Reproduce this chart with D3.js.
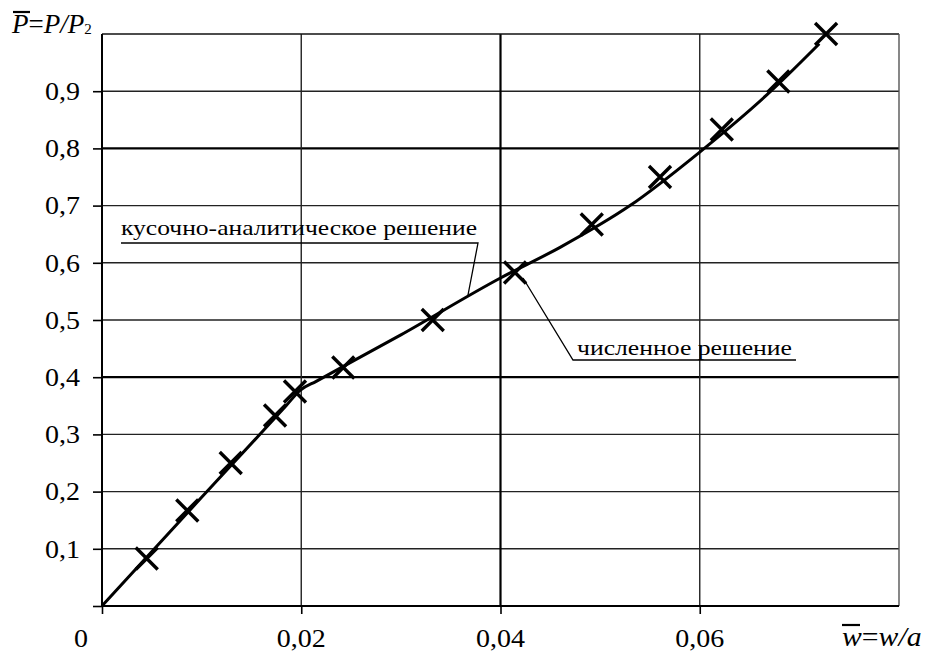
<!DOCTYPE html>
<html>
<head>
<meta charset="utf-8">
<script src="https://cdn.jsdelivr.net/npm/d3@7"></script>
<style>
  @font-face { font-family: "PlotSerif"; font-style: normal; src: local("Liberation Serif"), local("LiberationSerif"), local("Tinos"); }
  @font-face { font-family: "PlotSerif"; font-style: italic; src: local("Liberation Serif Italic"), local("LiberationSerif-Italic"), local("Tinos Italic"); }
</style>
</head>
<body style="margin:0">
<svg id="fig" width="925" height="652"></svg>
<script>
// Численное решение (точки ×): прогиб w/a и нагрузка P/P2
const numW = [0.00449, 0.00856, 0.01292, 0.01737, 0.01937, 0.02422, 0.0332, 0.04146, 0.04916, 0.05601, 0.06221, 0.06789, 0.07268];
const numP = [0.083, 0.167, 0.25, 0.333, 0.375, 0.417, 0.5, 0.583, 0.667, 0.75, 0.833, 0.917, 1.0];

// Кусочно-аналитическое решение (сплошная линия)
const anW = [0, 0.010, 0.0185, 0.01988, 0.0215, 0.030, 0.03995, 0.04598, 0.0530, 0.0600, 0.0667, 0.0720];
const anP = [0, 0.190, 0.3505, 0.377, 0.3928, 0.474, 0.573, 0.627, 0.700, 0.7936, 0.893, 0.983];

// Деления осей
const xTicks = [0.02, 0.04, 0.06];
const xTickLabels = ["0,02", "0,04", "0,06"];
const yTicks = [0.1, 0.2, 0.3, 0.4, 0.5, 0.6, 0.7, 0.8, 0.9];
const yTickLabels = ["0,1", "0,2", "0,3", "0,4", "0,5", "0,6", "0,7", "0,8", "0,9"];
const majorX = [0.04];
const majorY = [0.4, 0.8];

const FONT = "Liberation Serif";
// разрешаем шрифт заранее, чтобы текст сразу рисовался им
const ctx = document.createElement("canvas").getContext("2d");
["25px", "italic 27px", "22px"].forEach(f => { ctx.font = f + " " + FONT; ctx.measureText("0,02 кусочно P/P w/a"); });
const serif = sel => sel.style("font-family", FONT + ", PlotSerif, serif");

const svg = d3.select("#fig");
const x = d3.scaleLinear().domain([0, 0.08]).range([102, 899]);
const y = d3.scaleLinear().domain([0, 1]).range([606, 34]);

// Сетка
const grid = svg.append("g");
grid.selectAll("line.h").data(yTicks).join("line")
  .attr("x1", x(0)).attr("x2", x(0.08))
  .attr("y1", d => y(d)).attr("y2", d => y(d))
  .attr("stroke", d => majorY.includes(d) ? "#000" : "#222")
  .attr("stroke-width", d => majorY.includes(d) ? 2.2 : 1.4);
grid.selectAll("line.v").data(xTicks).join("line")
  .attr("y1", y(0)).attr("y2", y(1))
  .attr("x1", d => x(d)).attr("x2", d => x(d))
  .attr("stroke", d => majorX.includes(d) ? "#000" : "#222")
  .attr("stroke-width", d => majorX.includes(d) ? 2.2 : 1.4);

// Рамка поля графика
grid.append("line").attr("x1", x(0)).attr("x2", x(0.08)).attr("y1", y(1)).attr("y2", y(1))
  .attr("stroke", "#111").attr("stroke-width", 1.6);
grid.append("line").attr("x1", x(0.08)).attr("x2", x(0.08)).attr("y1", y(1)).attr("y2", y(0))
  .attr("stroke", "#555").attr("stroke-width", 1.4);

// Оси с засечками
const yAxis = d3.axisLeft(y).tickValues(yTicks.concat([0])).tickSize(9).tickFormat("");
const xAxis = d3.axisBottom(x).tickValues([0].concat(xTicks)).tickSize(8).tickFormat("");
svg.append("g").attr("transform", `translate(${x(0)},0)`).call(yAxis)
  .call(g => g.select(".domain").attr("stroke-width", 2).attr("d", `M0,${y(0)}V${y(1)}`))
  .call(g => g.selectAll(".tick line").attr("stroke-width", 1.6));
svg.append("g").attr("transform", `translate(0,${y(0)})`).call(xAxis)
  .call(g => g.select(".domain").attr("stroke-width", 2).attr("d", `M${x(0)},0H${x(0.08)}`))
  .call(g => g.selectAll(".tick line").attr("stroke-width", 1.6));

// Подписи делений (шрифт слегка растянут по горизонтали)
const SX = 1.12;
svg.append("g").selectAll("text").data(yTicks).join("text")
  .call(serif).attr("font-size", 25)
  .attr("transform", d => `translate(80,${y(d)}) scale(${SX},1)`)
  .attr("dy", "0.35em").attr("text-anchor", "end")
  .text((d, i) => yTickLabels[i]);
svg.append("g").selectAll("text").data(xTicks).join("text")
  .call(serif).attr("font-size", 25)
  .attr("transform", d => `translate(${x(d)},647) scale(${SX},1)`)
  .attr("text-anchor", "middle")
  .text((d, i) => xTickLabels[i]);
svg.append("text").call(serif).attr("font-size", 25)
  .attr("transform", `translate(${x(0) - 21},647) scale(${SX},1)`)
  .attr("text-anchor", "middle").text("0");

// Подписи осей
const yTitle = svg.append("text").call(serif)
  .attr("x", 12).attr("y", 33).attr("font-size", 27).attr("font-style", "italic");
yTitle.append("tspan").text("P");
yTitle.append("tspan").attr("font-style", "normal").text("=");
yTitle.append("tspan").text("P/P");
yTitle.append("tspan").attr("font-size", 15).attr("font-style", "normal").attr("dy", 1).text("2");
svg.append("line").attr("x1", 13).attr("x2", 30).attr("y1", 12).attr("y2", 12)
  .attr("stroke", "#000").attr("stroke-width", 2.2);

const xTitle = svg.append("text").call(serif)
  .attr("transform", "translate(842,646) scale(1.1,1)")
  .attr("font-size", 27).attr("font-style", "italic");
xTitle.append("tspan").text("w");
xTitle.append("tspan").attr("font-style", "normal").text("=");
xTitle.append("tspan").text("w/a");
svg.append("line").attr("x1", 842).attr("x2", 860).attr("y1", 625).attr("y2", 625)
  .attr("stroke", "#000").attr("stroke-width", 2.2);

// Кривая аналитического решения
const anPts = anW.map((w, i) => [w, anP[i]]);
svg.append("path").datum(anPts)
  .attr("fill", "none").attr("stroke", "#000").attr("stroke-width", 3)
  .attr("d", d3.line().x(d => x(d[0])).y(d => y(d[1])).curve(d3.curveMonotoneX));

// Точки численного решения
const s = 11;
svg.append("g").selectAll("path").data(numW.map((w, i) => [w, numP[i]])).join("path")
  .attr("transform", d => `translate(${x(d[0])},${y(d[1])})`)
  .attr("d", `M${-s},${-s}L${s},${s}M${-s},${s}L${s},${-s}`)
  .attr("stroke", "#000").attr("stroke-width", 3.4).attr("fill", "none");

// Выноски
const ann = svg.append("g");
ann.append("text").call(serif).attr("x", 121).attr("y", 235).attr("font-size", 22)
  .attr("textLength", 356).attr("lengthAdjust", "spacingAndGlyphs")
  .text("кусочно-аналитическое решение");
ann.append("path").attr("d", "M121,243H478L468,295")
  .attr("fill", "none").attr("stroke", "#000").attr("stroke-width", 1.3);
ann.append("text").call(serif).attr("x", 577).attr("y", 355).attr("font-size", 22)
  .attr("textLength", 215).attr("lengthAdjust", "spacingAndGlyphs")
  .text("численное решение");
ann.append("path").attr("d", "M796,360H573L523,278")
  .attr("fill", "none").attr("stroke", "#000").attr("stroke-width", 1.3);
</script>
</body>
</html>
